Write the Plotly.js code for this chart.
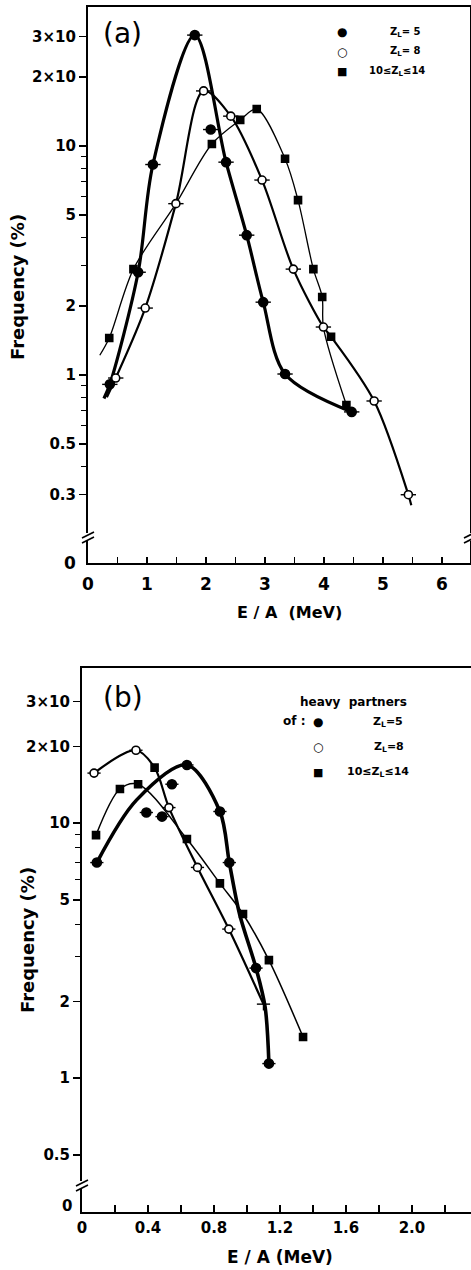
<!DOCTYPE html>
<html>
<head>
<meta charset="utf-8">
<script src="https://cdn.plot.ly/plotly-3.0.1.min.js"></script>
<style>html,body{margin:0;padding:0;background:#fff}#chart{width:471px;height:1270px}</style>
</head>
<body>
<div id="chart"></div>
<script>
// ---------- Panel (a) data ----------
const aZ5LineX = [0.27, 0.37, 0.85, 1.10, 1.81, 2.34, 2.69, 2.97, 3.34, 4.47];
const aZ5LineY = [0.79, 0.91, 2.81, 8.3, 30.5, 8.5, 4.08, 2.08, 1.01, 0.69];
const aZ8LineX = [0.32, 0.47, 0.97, 1.49, 1.96, 2.42, 2.95, 3.48, 3.99, 4.12, 4.85, 5.43, 5.48];
const aZ8LineY = [0.80, 0.97, 1.96, 5.6, 17.4, 13.5, 7.1, 2.9, 1.62, 1.47, 0.77, 0.30, 0.27];
const a10LineX = [0.2, 0.36, 0.77, 1.49, 2.1, 2.58, 2.86, 3.34, 3.56, 3.82, 3.97, 3.99, 4.38];
const a10LineY = [1.22, 1.45, 2.9, 5.6, 10.2, 13.0, 14.5, 8.8, 5.8, 2.9, 2.19, 1.62, 0.74];

const aZ5MX = [0.37, 0.85, 1.10, 1.81, 2.08, 2.34, 2.69, 2.97, 3.34, 4.47];
const aZ5MY = [0.91, 2.81, 8.3, 30.5, 11.8, 8.5, 4.08, 2.08, 1.01, 0.69];
const aZ8MX = [0.47, 0.97, 1.49, 1.96, 2.42, 2.95, 3.48, 3.99, 4.85, 5.43];
const aZ8MY = [0.97, 1.96, 5.6, 17.4, 13.5, 7.1, 2.9, 1.62, 0.77, 0.30];
const a10MX = [0.36, 0.77, 2.1, 2.58, 2.86, 3.34, 3.56, 3.82, 3.97, 4.12, 4.38];
const a10MY = [1.45, 2.9, 10.2, 13.0, 14.5, 8.8, 5.8, 2.9, 2.19, 1.47, 0.74];

const aXTickVals = [0, 1, 2, 3, 4, 5, 6];
const aXTickText = ['0', '1', '2', '3', '4', '5', '6'];
const aYTickVals = [0.3, 0.5, 1, 2, 5, 10, 20, 30];
const aYTickText = ['0.3', '0.5', '1', '2', '5', '10', '2×10', '3×10'];
const aYMinor = [0.4, 0.6, 0.7, 0.8, 0.9, 3, 4, 6, 7, 8, 9];

// ---------- Panel (b) data ----------
const bZ5LineX = [0.09, 0.33, 0.636, 0.836, 0.893, 0.955, 1.055, 1.11, 1.133];
const bZ5LineY = [7.0, 12.3, 16.9, 11.1, 7.0, 4.4, 2.7, 1.9, 1.14];
const bZ8LineX = [0.073, 0.327, 0.44, 0.527, 0.70, 0.89, 1.10];
const bZ8LineY = [15.7, 19.3, 16.5, 11.5, 6.7, 3.84, 1.95];
const b10LineX = [0.085, 0.23, 0.34, 0.636, 0.836, 0.976, 1.133, 1.34];
const b10LineY = [8.97, 13.6, 14.2, 8.66, 5.8, 4.4, 2.9, 1.45];

const bZ5MX = [0.09, 0.39, 0.485, 0.545, 0.636, 0.836, 0.893, 1.055, 1.133];
const bZ5MY = [7.0, 11.0, 10.6, 14.2, 16.9, 11.1, 7.0, 2.7, 1.14];
const bZ8MX = [0.073, 0.327, 0.527, 0.70, 0.89];
const bZ8MY = [15.7, 19.3, 11.5, 6.7, 3.84];
const b10MX = [0.085, 0.23, 0.34, 0.44, 0.636, 0.836, 0.976, 1.133, 1.34];
const b10MY = [8.97, 13.6, 14.2, 16.5, 8.66, 5.8, 4.4, 2.9, 1.45];
const bEndX = [1.10];
const bEndY = [1.95];

const bXTickVals = [0, 0.4, 0.8, 1.2, 1.6, 2.0];
const bXTickText = ['0', '0.4', '0.8', '1.2', '1.6', '2.0'];
const bYTickVals = [0.5, 1, 2, 5, 10, 20, 30];
const bYTickText = ['0.5', '1', '2', '5', '10', '2×10', '3×10'];
const bYMinor = [3, 4, 6, 7, 8, 9];

// ---------- helpers ----------
const W = 471, H = 1270;
const FONT = 'DejaVu Sans, Liberation Sans, sans-serif';
const px = x => x / W;
const py = y => 1 - y / H;

function line(x, y, w, xa, ya) {
  return {x: x, y: y, xaxis: xa, yaxis: ya, mode: 'lines', type: 'scatter',
    line: {color: '#000', width: w, shape: 'spline', smoothing: 0.9},
    hoverinfo: 'skip', showlegend: false};
}
function marks(x, y, sym, fill, size, xa, ya, err) {
  const t = {x: x, y: y, xaxis: xa, yaxis: ya, mode: 'markers', type: 'scatter',
    marker: {symbol: sym, size: size, color: fill, line: {color: '#000', width: 1.6}},
    showlegend: false};
  if (err) t.error_x = {type: 'constant', value: err, width: 0, thickness: 1.4, color: '#000'};
  return t;
}

const data = [
  line(a10LineX, a10LineY, 1.3, 'x', 'y'),
  line(aZ8LineX, aZ8LineY, 2.2, 'x', 'y'),
  line(aZ5LineX, aZ5LineY, 3.2, 'x', 'y'),
  marks(a10MX, a10MY, 'square', '#000', 7, 'x', 'y', 0),
  marks(aZ5MX, aZ5MY, 'circle', '#000', 9, 'x', 'y', 0.13),
  marks(aZ8MX, aZ8MY, 'circle', '#fff', 8, 'x', 'y', 0.13),

  line(b10LineX, b10LineY, 1.5, 'x2', 'y2'),
  line(bZ8LineX, bZ8LineY, 2.2, 'x2', 'y2'),
  line(bZ5LineX, bZ5LineY, 3.6, 'x2', 'y2'),
  marks(b10MX, b10MY, 'square', '#000', 7, 'x2', 'y2', 0),
  marks(bZ5MX, bZ5MY, 'circle', '#000', 9, 'x2', 'y2', 0.04),
  marks(bZ8MX, bZ8MY, 'circle', '#fff', 8, 'x2', 'y2', 0.04),
  {x: bEndX, y: bEndY, xaxis: 'x2', yaxis: 'y2', mode: 'markers', type: 'scatter',
   marker: {symbol: 'line-ns-open', size: 9, color: '#000', line: {color: '#000', width: 1.4}},
   error_x: {type: 'constant', value: 0.04, width: 0, thickness: 1.4, color: '#000'},
   showlegend: false}
];

const tickFont = {family: FONT, size: 15, color: '#000', weight: 'bold'};

const layout = {
  width: W, height: H,
  margin: {l: 0, r: 0, t: 0, b: 0},
  paper_bgcolor: '#fff', plot_bgcolor: '#fff',
  showlegend: false,
  font: {family: FONT, color: '#000'},
  xaxis: {
    domain: [px(88), px(470)], anchor: 'y', range: [0, 6.475],
    showline: true, linecolor: '#000', linewidth: 2, mirror: true,
    showgrid: false, zeroline: false,
    tickmode: 'array', tickvals: aXTickVals, ticktext: aXTickText,
    ticks: 'inside', ticklen: 6, tickwidth: 1.5, tickcolor: '#000',
    minor: {dtick: 0.5, ticks: 'inside', ticklen: 6, tickwidth: 1.5, tickcolor: '#000', showgrid: false},
    tickfont: {family: FONT, size: 17, color: '#000', weight: 'bold'}, ticklabelstandoff: 5
  },
  yaxis: {
    domain: [py(563), py(7)], anchor: 'x', type: 'log', range: [-0.821, 1.607],
    showline: true, linecolor: '#000', linewidth: 2, mirror: true,
    showgrid: false, zeroline: false,
    tickmode: 'array', tickvals: aYTickVals, ticktext: aYTickText,
    ticks: 'outside', ticklen: 7, tickwidth: 1.5, tickcolor: '#000',
    minor: {tickmode: 'array', tickvals: aYMinor, ticks: 'outside', ticklen: 5, tickwidth: 1.2, tickcolor: '#000', showgrid: false},
    tickfont: tickFont
  },
  xaxis2: {
    domain: [px(82), 1], anchor: 'y2', range: [0, 2.358],
    showline: true, linecolor: '#000', linewidth: 2, mirror: true,
    showgrid: false, zeroline: false,
    tickmode: 'array', tickvals: bXTickVals, ticktext: bXTickText,
    ticks: 'inside', ticklen: 7, tickwidth: 1.5, tickcolor: '#000',
    minor: {dtick: 0.2, ticks: 'inside', ticklen: 7, tickwidth: 1.5, tickcolor: '#000', showgrid: false},
    tickfont: {family: FONT, size: 15, color: '#000', weight: 'bold'}, ticklabelstandoff: 1
  },
  yaxis2: {
    domain: [py(1212), py(668)], anchor: 'x2', type: 'log', range: [-0.525, 1.608],
    showline: true, linecolor: '#000', linewidth: 2, mirror: false,
    showgrid: false, zeroline: false,
    tickmode: 'array', tickvals: bYTickVals, ticktext: bYTickText,
    ticks: 'outside', ticklen: 7, tickwidth: 1.5, tickcolor: '#000',
    minor: {tickmode: 'array', tickvals: bYMinor, ticks: 'outside', ticklen: 5, tickwidth: 1.2, tickcolor: '#000', showgrid: false},
    tickfont: tickFont
  },
  shapes: [],
  annotations: []
};

// axis break marks
function brk(x, y) {
  layout.shapes.push({type: 'rect', xref: 'paper', yref: 'paper', x0: px(x - 4), x1: px(x + 4),
    y0: py(y + 4), y1: py(y - 4), fillcolor: '#fff', line: {width: 0}, layer: 'above'});
  layout.shapes.push({type: 'line', xref: 'paper', yref: 'paper', x0: px(x - 6), y0: py(y + 1),
    x1: px(x + 6), y1: py(y - 5), line: {color: '#000', width: 1.6}, layer: 'above'});
  layout.shapes.push({type: 'line', xref: 'paper', yref: 'paper', x0: px(x - 6), y0: py(y + 6),
    x1: px(x + 6), y1: py(y), line: {color: '#000', width: 1.6}, layer: 'above'});
}
brk(88, 537);
brk(470, 537);
brk(82, 1185);

function ann(text, x, y, size, opts) {
  layout.annotations.push(Object.assign({
    text: text, xref: 'paper', yref: 'paper', x: px(x), y: py(y),
    xanchor: 'center', yanchor: 'middle', showarrow: false,
    font: {family: FONT, size: size, color: '#000', weight: 'bold'}
  }, opts || {}));
}

// zero labels at the broken axis bottoms
ann('0', 78, 563, 17, {xanchor: 'right'});
ann('0', 74, 1206, 15, {xanchor: 'right'});

// panel labels
ann('(a)', 122, 33, 28, {font: {family: 'DejaVu Sans, sans-serif', size: 28, color: '#000'}});
ann('(b)', 123, 697, 28, {font: {family: 'DejaVu Sans, sans-serif', size: 28, color: '#000'}});

// axis titles
ann('Frequency (%)', 18, 287, 18, {textangle: -90});
ann('E / A  (MeV)', 289, 612, 16);
ann('Frequency (%)', 27, 940, 18, {textangle: -90});
ann('E / A (MeV)', 280, 1257, 17);

// legend (a)
const sym = {family: 'DejaVu Sans, sans-serif', size: 12, color: '#000', weight: 'bold'};
ann('●', 342, 32, 12, {font: sym});
ann('○', 342, 52, 12, {font: sym});
ann('■', 342, 72, 12, {font: Object.assign({}, sym, {size: 11})});
ann('Z<sub>L</sub>= 5', 405, 32, 10);
ann('Z<sub>L</sub>= 8', 405, 52, 10);
ann('10≤Z<sub>L</sub>≤14', 397, 72, 10);

// legend (b)
ann('heavy  partners', 353, 702, 12);
ann('of :', 294, 721, 12);
ann('●', 318, 722, 12, {font: sym});
ann('○', 318, 747, 12, {font: sym});
ann('■', 318, 772, 12, {font: Object.assign({}, sym, {size: 11})});
ann('Z<sub>L</sub>=5', 388, 722, 11);
ann('Z<sub>L</sub>=8', 389, 747, 11);
ann('10≤Z<sub>L</sub>≤14', 378, 772, 11);

Plotly.newPlot('chart', data, layout, {staticPlot: true, displayModeBar: false});
</script>
</body>
</html>
